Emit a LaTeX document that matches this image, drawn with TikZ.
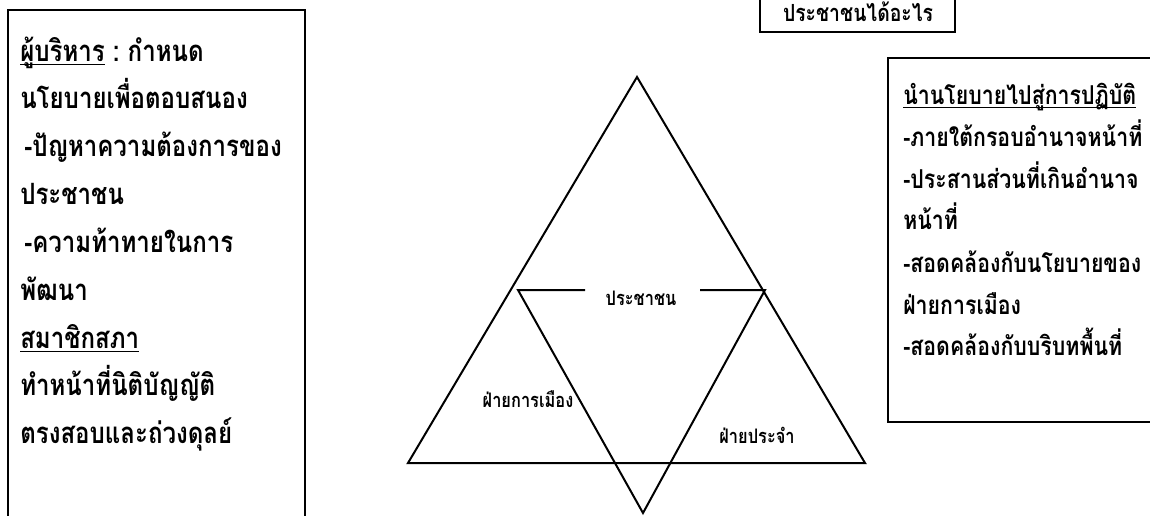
\documentclass[tikz,border=0pt]{standalone}
\usepackage{fontspec}
\newfontfamily\thaifont[Script=Thai,FakeStretch=0.82]{Loma}
\newcommand\thul[1]{\setbox0=\hbox{#1}\rlap{\rule[-2.8pt]{\wd0}{0.8pt}}\box0}
\tikzset{
  frame/.style={line width=1.5pt},
  tri/.style={line width=1.5pt, line join=miter},
  lefttxt/.style={anchor=base west, inner sep=0pt, font=\thaifont\bfseries\fontsize{22}{24}\selectfont},
  righttxt/.style={anchor=base west, inner sep=0pt, font=\thaifont\bfseries\fontsize{19.5}{22}\selectfont},
  toptxt/.style={inner sep=0pt, font=\thaifont\bfseries\fontsize{17.7}{20}\selectfont},
  trilabel/.style={inner sep=0pt, font=\thaifont\bfseries\fontsize{15}{17}\selectfont}
}
\begin{document}
\begin{tikzpicture}[x=0.75pt,y=-0.75pt]
\useasboundingbox (0,0) rectangle (1150,515);
\fill[white] (0,0) rectangle (1150,515);
\begin{scope}
\clip (0,0) rectangle (1150,515);
% left box
\draw[frame] (8,530) -- (8,10) -- (305,10) -- (305,530);
% top box
\draw[frame] (760,-10) -- (760,32) -- (955,32) -- (955,-10);
% right box
\draw[frame] (1160,58) -- (888,58) -- (888,422) -- (1160,422);
\end{scope}

% left box text
\node[lefttxt] (l1) at (20,61) {\thul{ผู้บริหาร}\ :\ กำหนด};
\node[lefttxt] (l2) at (20,108) {นโยบายเพื่อตอบสนอง};
\node[lefttxt] (l3) at (24,156) {-ปัญหาความต้องการของ};
\node[lefttxt] (l4) at (20,204) {ประชาชน};
\node[lefttxt] (l5) at (24,252) {-ความท้าทายในการ};
\node[lefttxt] (l6) at (20,300) {พัฒนา};
\node[lefttxt] (l7) at (20,348) {\thul{สมาชิกสภา}};
\node[lefttxt] (l8) at (20,395) {ทำหน้าที่นิติบัญญัติ};
\node[lefttxt] (l9) at (20,443) {ตรงสอบและถ่วงดุลย์};

% top box text
\node[toptxt, anchor=base] (t1) at (858,21) {ประชาชนได้อะไร};

% right box text
\node[righttxt] (r1) at (903,104) {\thul{นำนโยบายไปสู่การปฏิบัติ}};
\node[righttxt] (r2) at (903,146) {-ภายใต้กรอบอำนาจหน้าที่};
\node[righttxt] (r3) at (903,188) {-ประสานส่วนที่เกินอำนาจ};
\node[righttxt] (r4) at (903,229) {หน้าที่};
\node[righttxt] (r5) at (903,272) {-สอดคล้องกับนโยบายของ};
\node[righttxt] (r6) at (903,314) {ฝ่ายการเมือง};
\node[righttxt] (r7) at (903,355) {-สอดคล้องกับบริบทพื้นที่};

% big triangle
\coordinate (A) at (637,77);
\coordinate (B) at (408,463);
\coordinate (C) at (865,463);
\draw[tri] (A) -- (B) -- (C) -- cycle;

% inverted triangle
\coordinate (D) at (518,290);
\coordinate (E) at (765,290);
\coordinate (F) at (643,513);
\coordinate (D2) at (585,290);
\coordinate (E2) at (700,290);
\draw[tri] (D2) -- (D) -- (F) -- (E) -- (E2);

\node[trilabel, anchor=base] (p) at (641,305) {ประชาชน};
\node[trilabel, anchor=base] (pol) at (528,407) {ฝ่ายการเมือง};
\node[trilabel, anchor=base] (adm) at (757,443) {ฝ่ายประจำ};
\end{tikzpicture}
\end{document}
